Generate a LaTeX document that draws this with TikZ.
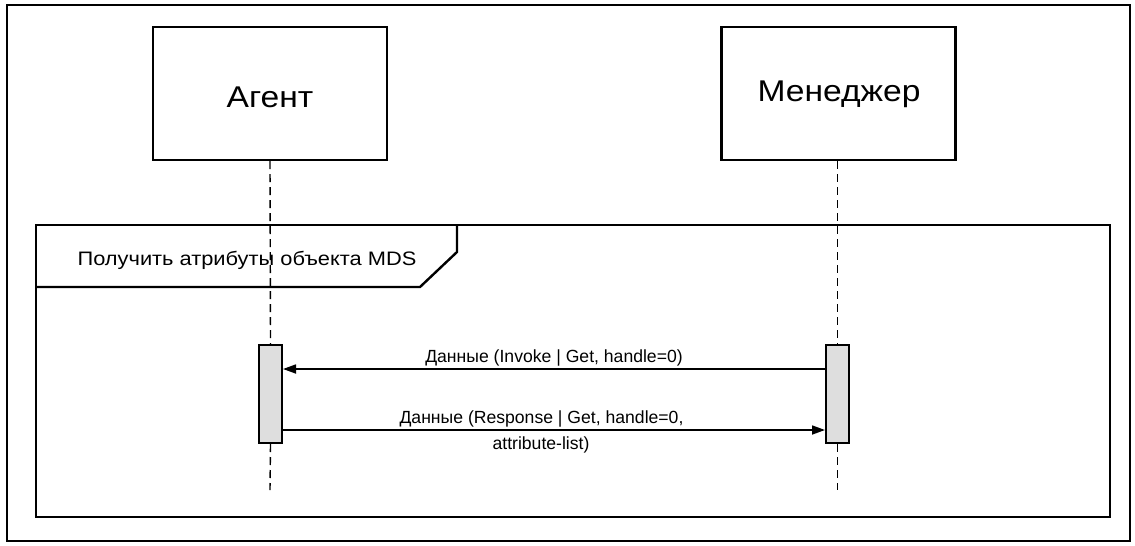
\documentclass[tikz,border=0pt]{standalone}
\usepackage{fontspec}
\setmainfont{Liberation Sans}
\newfontfamily\widefont[FakeStretch=1.12]{Liberation Sans}
\usetikzlibrary{arrows.meta}
\begin{document}
\begin{tikzpicture}[x=1pt,y=-1pt,
  actor/.style={draw,line width=2.4pt,minimum width=234pt,minimum height=133pt,inner sep=0pt},
  atext/.style={font=\widefont\fontsize{30}{34}\selectfont,inner sep=0pt,anchor=base},
  life/.style={line width=1.4pt,dash pattern=on 8pt off 5pt},
  act/.style={draw,line width=2pt,fill=black!13,minimum width=23pt,minimum height=98pt,inner sep=0pt},
  msg/.style={line width=1.7pt,-{Triangle[length=13pt,width=9pt]}},
  lbl/.style={font=\fontsize{17.6}{20}\selectfont,inner sep=0pt,anchor=base}]
\useasboundingbox (0,0) rectangle (1135,546);
\draw[line width=2.4pt] (7,5) rectangle (1130,541);
% actors
\node[actor] (agent) at (270,93.5) {};
\node[actor] (mgr) at (838.5,93.5) {};
\node[atext] (agentt) at (270,107) {Агент};
\node[atext] (mgrt) at (839,101) {Менеджер};
% frame
\draw[line width=2.4pt] (36,225) rectangle (1110,517);
\draw[line width=2.4pt] (36,287) -- (420,287) -- (457,252) -- (457,225);
\node[font=\widefont\fontsize{19.5}{22}\selectfont,inner sep=0pt,anchor=base] (ftitle) at (247,265) {Получить атрибуты объекта MDS};
% lifelines
\coordinate (aend) at (270,490);
\coordinate (mend) at (837.5,490);
\node[act] (aact) at (270.5,394) {};
\node[act] (mact) at (837.5,394) {};
\draw[life] (agent.south) -- (aact.north);
\draw[life] (aact.south) -- (aend);
\draw[life] (mgr.south -| mact.north) -- (mact.north);
\draw[life] (mact.south) -- (mend);
% messages
\draw[msg] (mact.west |- 0,369) -- (aact.east |- 0,369);
\node[lbl] (m1) at (554,362) {Данные (Invoke | Get, handle=0)};
\draw[msg] (aact.east |- 0,430) -- (mact.west |- 0,430);
\node[lbl] (m2) at (541.5,423) {Данные (Response | Get, handle=0,};
\node[lbl] (m2b) at (541,449) {attribute-list)};
\end{tikzpicture}
\end{document}
